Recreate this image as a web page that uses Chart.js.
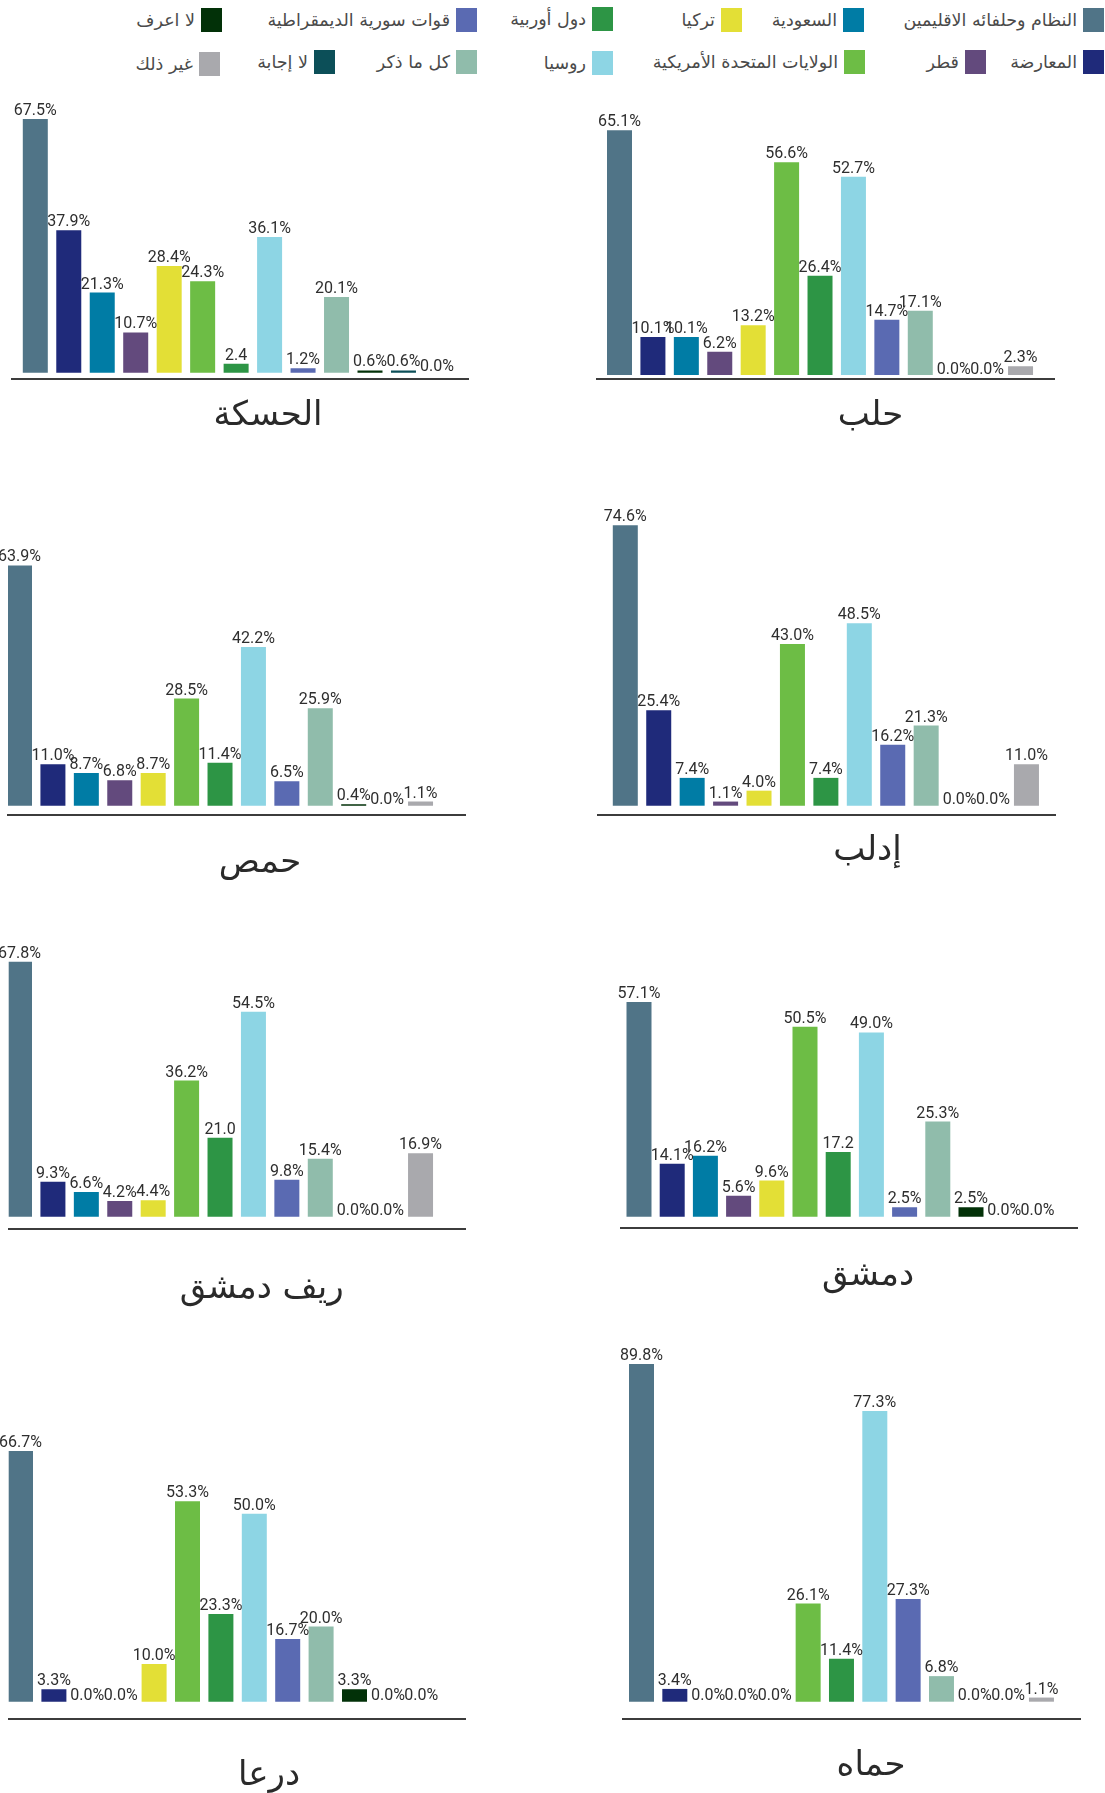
<!DOCTYPE html>
<html lang="ar">
<head>
<meta charset="utf-8">
<title>الجهات الداعمة حسب المحافظة</title>
<script src="https://cdn.jsdelivr.net/npm/chart.js@4.4.1/dist/chart.umd.min.js"></script>
<style>
  html, body { margin: 0; padding: 0; background: #ffffff; }
  body { width: 1105px; height: 1793px; position: relative; overflow: hidden; }
  canvas { position: absolute; }
  .lg-box { position: absolute; width: 21px; height: 24px; }
  .lg-text {
    position: absolute; white-space: nowrap; direction: rtl; text-align: right;
    font-family: "DejaVu Sans", sans-serif; font-size: 17.5px; color: #4a4a4a;
    line-height: 24px;
  }
</style>
</head>
<body>
<script>
// Categories (bar order, left to right in every panel)
const categories = [
  'النظام وحلفائه الاقليمين',
  'المعارضة',
  'السعودية',
  'قطر',
  'تركيا',
  'الولايات المتحدة الأمريكية',
  'دول أوربية',
  'روسيا',
  'قوات سورية الديمقراطية',
  'كل ما ذكر',
  'لا اعرف',
  'لا إجابة',
  'غير ذلك'
];

const categoryColors = [
  '#507487', '#1f2a7a', '#007ca5', '#634a7d', '#e3df36', '#6dbd45', '#2d9545',
  '#8dd5e4', '#5a6ab2', '#90bcab', '#023108', '#0c4f58', '#a9a9ad'
];

// Panel names
const regions = ['الحسكة', 'حلب', 'حمص', 'إدلب', 'ريف دمشق', 'دمشق', 'درعا', 'حماه'];

// Percentages per region, in category order
const hasakah   = [67.5, 37.9, 21.3, 10.7, 28.4, 24.3, 2.4, 36.1, 1.2, 20.1, 0.6, 0.6, 0.0];
const aleppo    = [65.1, 10.1, 10.1, 6.2, 13.2, 56.6, 26.4, 52.7, 14.7, 17.1, 0.0, 0.0, 2.3];
const homs      = [63.9, 11.0, 8.7, 6.8, 8.7, 28.5, 11.4, 42.2, 6.5, 25.9, 0.4, 0.0, 1.1];
const idlib     = [74.6, 25.4, 7.4, 1.1, 4.0, 43.0, 7.4, 48.5, 16.2, 21.3, 0.0, 0.0, 11.0];
const rifDimashq= [67.8, 9.3, 6.6, 4.2, 4.4, 36.2, 21.0, 54.5, 9.8, 15.4, 0.0, 0.0, 16.9];
const damascus  = [57.1, 14.1, 16.2, 5.6, 9.6, 50.5, 17.2, 49.0, 2.5, 25.3, 2.5, 0.0, 0.0];
const daraa     = [66.7, 3.3, 0.0, 0.0, 10.0, 53.3, 23.3, 50.0, 16.7, 20.0, 3.3, 0.0, 0.0];
const hama      = [89.8, 3.4, 0.0, 0.0, 0.0, 26.1, 11.4, 77.3, 27.3, 6.8, 0.0, 0.0, 1.1];

const regionValues = [hasakah, aleppo, homs, idlib, rifDimashq, damascus, daraa, hama];

// Bars whose value label is printed without the percent sign
const labelsWithoutPercent = [[6], [], [], [], [6], [6], [], []];

// ---- layout (page pixels) ----
const PX_PER_PERCENT = 3.76;
const BAR_WIDTH = 25;

// axis line span, first bar centre, bar pitch, bar base, axis line y, title centre/baseline
const panelLayout = [
  { lineL: 12,    lineR: 468,  c0: 35.3,  pitch: 33.47, baseY: 372.7,  axisY: 379.3, titleX: 268,   titleY: 425 },
  { lineL: 597,   lineR: 1054, c0: 619.5, pitch: 33.42, baseY: 375,    axisY: 379.3, titleX: 870.5, titleY: 425 },
  { lineL: 8,     lineR: 465,  c0: 19.5,  pitch: 33.42, baseY: 805.7,  axisY: 814.7, titleX: 260,   titleY: 872 },
  { lineL: 598,   lineR: 1055, c0: 625.3, pitch: 33.43, baseY: 805.7,  axisY: 815,   titleX: 867.5, titleY: 860 },
  { lineL: 8.7,   lineR: 465,  c0: 19.5,  pitch: 33.42, baseY: 1216.7, axisY: 1229,  titleX: 261.7, titleY: 1298 },
  { lineL: 620.7, lineR: 1077, c0: 639,   pitch: 33.2,  baseY: 1216.7, axisY: 1228,  titleX: 868,   titleY: 1285 },
  { lineL: 8.7,   lineR: 465,  c0: 20.5,  pitch: 33.4,  baseY: 1701.7, axisY: 1719,  titleX: 269,   titleY: 1785 },
  { lineL: 623,   lineR: 1080, c0: 641.5, pitch: 33.33, baseY: 1701.7, axisY: 1719,  titleX: 871,   titleY: 1775 }
];

// legend swatch top-left corners, in category order
const legendLayout = [
  [1083, 8], [1083, 50], [843, 8], [965, 50], [721, 8], [844, 50], [592, 7],
  [592, 51], [456, 8], [456, 50], [201, 8], [314, 50], [199, 52]
];

// ---- legend ----
categories.forEach((name, i) => {
  const [x, y] = legendLayout[i];
  const box = document.createElement('div');
  box.className = 'lg-box';
  box.style.left = x + 'px';
  box.style.top = y + 'px';
  box.style.background = categoryColors[i];
  document.body.appendChild(box);

  const txt = document.createElement('div');
  txt.className = 'lg-text';
  txt.textContent = name;
  txt.style.right = (1105 - x + 6) + 'px';
  txt.style.top = y + 'px';
  document.body.appendChild(txt);
});

// ---- plugins ----
const valueLabels = {
  id: 'valueLabels',
  afterDatasetsDraw(chart, args, opts) {
    const { ctx } = chart;
    const meta = chart.getDatasetMeta(0);
    const points = chart.data.datasets[0].data;
    ctx.save();
    ctx.font = '16px Roboto';
    ctx.fillStyle = '#2e2e2e';
    ctx.textAlign = 'center';
    ctx.textBaseline = 'alphabetic';
    meta.data.forEach((bar, i) => {
      const v = points[i].y;
      const text = v.toFixed(1) + (opts.noPercent.includes(i) ? '' : '%');
      ctx.fillText(text, bar.x, bar.y - (v === 0 ? 1.5 : 4));
    });
    ctx.restore();
  }
};

const panelTitle = {
  id: 'panelTitle',
  afterDraw(chart, args, opts) {
    const { ctx } = chart;
    ctx.save();
    ctx.font = '34px "DejaVu Sans"';
    ctx.fillStyle = '#2a2a2a';
    ctx.textAlign = 'center';
    ctx.textBaseline = 'alphabetic';
    ctx.direction = 'rtl';
    ctx.fillText(opts.text, opts.x, opts.y);
    ctx.restore();
  }
};

// ---- panels ----
regions.forEach((region, p) => {
  const L = panelLayout[p];
  const values = regionValues[p];
  const SIDE = 16;
  const left = Math.floor(L.lineL) - SIDE;
  const top = Math.floor(L.baseY - 372);
  const width = Math.ceil(L.lineR) + SIDE - left;
  const bottom = Math.ceil(L.titleY + 18);
  const height = bottom - top;

  const canvas = document.createElement('canvas');
  canvas.width = width;
  canvas.height = height;
  canvas.style.left = left + 'px';
  canvas.style.top = top + 'px';
  canvas.style.width = width + 'px';
  canvas.style.height = height + 'px';
  document.body.appendChild(canvas);

  const padLeft = L.lineL - left;
  const padRight = left + width - L.lineR;
  const padBottom = bottom - L.axisY;

  new Chart(canvas, {
    type: 'bar',
    data: {
      datasets: [{
        data: values.map((v, i) => ({ x: i, y: v })),
        backgroundColor: categoryColors,
        borderWidth: 0,
        inflateAmount: 0,
        barThickness: BAR_WIDTH
      }]
    },
    options: {
      responsive: false,
      animation: false,
      devicePixelRatio: 1,
      events: [],
      layout: { padding: { left: padLeft, right: padRight, top: 0, bottom: padBottom } },
      scales: {
        x: {
          type: 'linear',
          offset: false,
          bounds: 'data',
          min: -(L.c0 - L.lineL) / L.pitch,
          max: (L.lineR - L.c0) / L.pitch,
          grid: { display: false, drawTicks: false, offset: false },
          ticks: { display: false },
          border: { display: true, color: '#3c3c3c', width: 2 }
        },
        y: {
          display: false,
          bounds: 'data',
          min: -(L.axisY - L.baseY) / PX_PER_PERCENT,
          max: (L.baseY - top) / PX_PER_PERCENT
        }
      },
      plugins: {
        legend: { display: false },
        tooltip: { enabled: false },
        title: { display: false },
        valueLabels: { noPercent: labelsWithoutPercent[p] },
        panelTitle: { text: region, x: L.titleX - left, y: L.titleY - top }
      }
    },
    plugins: [valueLabels, panelTitle]
  });
});
</script>
</body>
</html>
